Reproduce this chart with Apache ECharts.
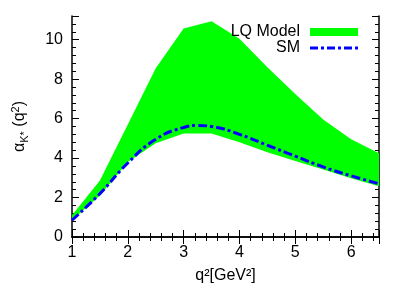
<!DOCTYPE html>
<html>
<head>
<meta charset="utf-8">
<script src="https://cdn.jsdelivr.net/npm/echarts@6/dist/echarts.min.js"></script>
<style>html,body{margin:0;padding:0;background:#fff;}#c{width:409px;height:300px;}</style>
</head>
<body>
<div id="c"></div>
<script>
var q2 = ['1', '1.5', '2', '2.5', '3', '3.5', '4', '4.5', '5', '5.5', '6', '6.5'];
var lqUpper = [1.1, 2.86, 5.7, 8.55, 10.57, 10.94, 10.05, 8.6, 7.25, 5.95, 4.95, 4.25];
var lqLower = [0.85, 2.1, 3.8, 4.75, 5.25, 5.24, 4.8, 4.3, 3.85, 3.42, 2.98, 2.57];
var smQ2 = [1, 1.5, 2, 2.5, 3, 3.25, 3.5, 4, 4.5, 5, 5.5, 6, 6.5];
var smValues = [0.85, 2.2, 3.75, 4.95, 5.55, 5.65, 5.6, 5.2, 4.65, 4.1, 3.55, 3.1, 2.7];
var xTicks = [1, 2, 3, 4, 5, 6];
var yTicks = [0, 2, 4, 6, 8, 10];

var FONT = 'Liberation Sans';
var FS = 16;
var chart = echarts.init(document.getElementById('c'), null, {renderer: 'canvas'});

var bandWidth = lqUpper.map(function (u, i) { return +(u - lqLower[i]).toFixed(3); });
var smData = smQ2.map(function (x, i) { return [x, smValues[i]]; });

var dashDotIcon = 'path://M0,0h8v3h-8z M11,0h3v3h-3z M17,0h8v3h-8z M28,0h3v3h-3z M34,0h8v3h-8z M45,0h3v3h-3z';

var axisLineStyle = {show: true, lineStyle: {color: '#000', width: 1.5}};
var tickStyle = {inside: true, length: 7, lineStyle: {color: '#000', width: 1}};
var minorStyle = {show: true, splitNumber: 5, length: 4, lineStyle: {color: '#000', width: 1}};
var option = {
  backgroundColor: '#fff',
  animation: false,
  grid: {left: 72, top: 16, right: 30, bottom: 63},
  legend: {
    orient: 'vertical', right: 51, top: 24, align: 'right', padding: 0,
    itemWidth: 48, itemHeight: 8, itemGap: 0, symbolKeepAspect: true,
    textStyle: {fontFamily: FONT, fontSize: FS, color: '#000', lineHeight: 14, padding: [0, 5, 0, 0]},
    data: [{name: 'LQ Model', icon: 'rect'}, {name: 'SM', icon: dashDotIcon}]
  },
  xAxis: [{
    type: 'value', min: 1, max: 6.5, interval: 1,
    axisLine: axisLineStyle, axisTick: tickStyle, minorTick: minorStyle,
    splitLine: {show: false},
    axisLabel: {fontFamily: FONT, fontSize: FS, color: '#000', margin: 8,
      formatter: function (v) { return xTicks.indexOf(v) >= 0 ? String(v) : ''; }},
    name: 'q²[GeV²]', nameLocation: 'middle', nameGap: 31,
    nameTextStyle: {fontFamily: FONT, fontSize: FS, color: '#000'}
  }, {
    type: 'value', position: 'top', min: 1, max: 6.5, interval: 1,
    axisLine: axisLineStyle, axisTick: tickStyle, minorTick: minorStyle,
    splitLine: {show: false}, axisLabel: {show: false}
  }, {
    type: 'category', data: q2, boundaryGap: false, show: false, position: 'bottom'
  }],
  yAxis: [{
    type: 'value', min: 0, max: 11.2, interval: 2,
    axisLine: axisLineStyle, axisTick: tickStyle, minorTick: minorStyle,
    splitLine: {show: false},
    axisLabel: {fontFamily: FONT, fontSize: FS, color: '#000', margin: 9,
      formatter: function (v) { return yTicks.indexOf(v) >= 0 ? String(v) : ''; }},
    name: 'α{sub|K*} (q{sup|2})', nameLocation: 'middle', nameGap: 42, nameRotate: 90,
    nameTextStyle: {fontFamily: FONT, fontSize: FS, color: '#000', lineHeight: 20,
      rich: {
        sub: {fontFamily: FONT, fontSize: 11, color: '#000', lineHeight: 20, verticalAlign: 'bottom'},
        sup: {fontFamily: FONT, fontSize: 11, color: '#000', lineHeight: 20, verticalAlign: 'top'}
      }}
  }, {
    type: 'value', position: 'right', min: 0, max: 11.2, interval: 2,
    axisLine: axisLineStyle, axisTick: tickStyle, minorTick: minorStyle,
    splitLine: {show: false}, axisLabel: {show: false}
  }],
  series: [{
    name: 'base', type: 'line', stack: 'band', data: lqLower,
    xAxisIndex: 2, yAxisIndex: 0,
    symbol: 'none', lineStyle: {opacity: 0}, silent: true, z: 1
  }, {
    name: 'LQ Model', type: 'line', stack: 'band', data: bandWidth,
    xAxisIndex: 2, yAxisIndex: 0,
    symbol: 'none', color: '#00ff00',
    lineStyle: {width: 0, color: '#00ff00'},
    areaStyle: {color: '#00ff00', opacity: 1}, z: 2
  }, {
    name: 'SM', type: 'line', data: smData, smooth: true,
    xAxisIndex: 0, yAxisIndex: 0,
    symbol: 'none', color: '#0000ff',
    lineStyle: {color: '#0000ff', width: 3, type: [9, 3, 3, 3]}, z: 3
  }]
};
chart.setOption(option);
</script>
</body>
</html>
